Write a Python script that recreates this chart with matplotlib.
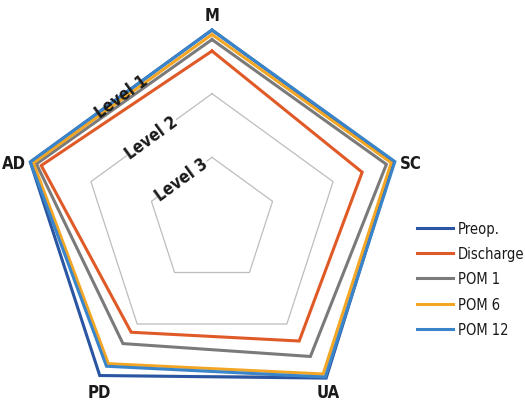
import numpy as np
import matplotlib
matplotlib.use('Agg')
import matplotlib.pyplot as plt

plt.rcParams['font.family'] = ['DejaVu Sans']
plt.rcParams['font.stretch'] = 'condensed'

categories = ['M', 'SC', 'UA', 'PD', 'AD']
series_names = ['Preop.', 'Discharge', 'POM 1', 'POM 6', 'POM 12']
# values expressed as level (1 = outer ring, 3 = inner ring; centre = 4)
preop     = [1.00, 1.00, 0.95, 1.00, 1.00]
discharge = [1.33, 1.52, 1.67, 1.84, 1.18]
pom1      = [1.15, 1.12, 1.37, 1.62, 1.10]
pom6      = [1.07, 1.04, 1.03, 1.23, 1.05]
pom12     = [1.00, 0.98, 0.97, 1.18, 1.00]
level_values = [1, 2, 3]
level_labels = ['Level 1', 'Level 2', 'Level 3']

colors = ['#2A55A2', '#E05A27', '#7A7A7A', '#F2A623', '#3A84CA']
series = [preop, discharge, pom1, pom6, pom12]

CENTRE = 4.0
rmax = 3.2

fig = plt.figure(figsize=(5.25, 4.06), dpi=100)
R_px = 191 * rmax / 3
ax = fig.add_axes([(212 - R_px) / 525, (184 - R_px) / 406, 2 * R_px / 525, 2 * R_px / 406],
                  polar=True)
ax.set_theta_offset(np.pi / 2)
ax.set_theta_direction(-1)
ax.set_ylim(0, rmax)
ax.set_axis_off()

n = len(categories)
angles = np.arange(n) * 2 * np.pi / n
closed = np.concatenate([angles, angles[:1]])

# grid pentagons
for lv in level_values:
    rr = CENTRE - lv
    ax.plot(closed, [rr] * (n + 1), color='#BDBDBD', lw=0.9, zorder=1, clip_on=False)

handles = []
for i, vals in enumerate(series):
    r = CENTRE - np.array(vals)
    r = np.concatenate([r, r[:1]])
    ln, = ax.plot(closed, r, color=colors[i], lw=2.2, zorder=2 + i, clip_on=False,
                  solid_joinstyle='miter', label=series_names[i])
    handles.append(ln)

# level labels along the M-AD edge
mid_theta = (angles[0] + 2 * np.pi + angles[-1]) / 2
for lv, lab in zip(level_values, level_labels):
    rr = (CENTRE - lv) * np.cos(np.pi / n)
    kw = {}
    if lv != 1:
        kw['bbox'] = dict(facecolor='white', edgecolor='none', pad=0.3)
    ax.text(mid_theta, rr, lab, rotation=36, ha='center', va='center',
            fontsize=12, fontweight='bold', color='#1a1a1a', zorder=10,
            rotation_mode='anchor', **kw)

# category labels placed around outer vertices (offsets in pixels)
offsets = {'M': ((0, 6), 'center', 'bottom'),
           'SC': ((6, -1), 'left', 'center'),
           'UA': ((4, -7), 'center', 'top'),
           'PD': ((0, -7), 'center', 'top'),
           'AD': ((-4, -1), 'right', 'center')}
for a, c in zip(angles, categories):
    (dx, dy), ha, va = offsets[c]
    ax.annotate(c, xy=(a, 3.0), xytext=(dx, dy), textcoords='offset pixels',
                ha=ha, va=va, fontsize=12, fontweight='bold', color='#1a1a1a',
                annotation_clip=False)

leg = fig.legend(handles, series_names,
                 loc='upper left', bbox_to_anchor=(417 / 525, (406 - 222) / 406),
                 frameon=False, fontsize=10.5, handlelength=2.5, handletextpad=0.3,
                 labelspacing=0.70, borderpad=0, borderaxespad=0)
for t in leg.get_texts():
    t.set_color('#1a1a1a')

fig.savefig('out.png', dpi=100)
